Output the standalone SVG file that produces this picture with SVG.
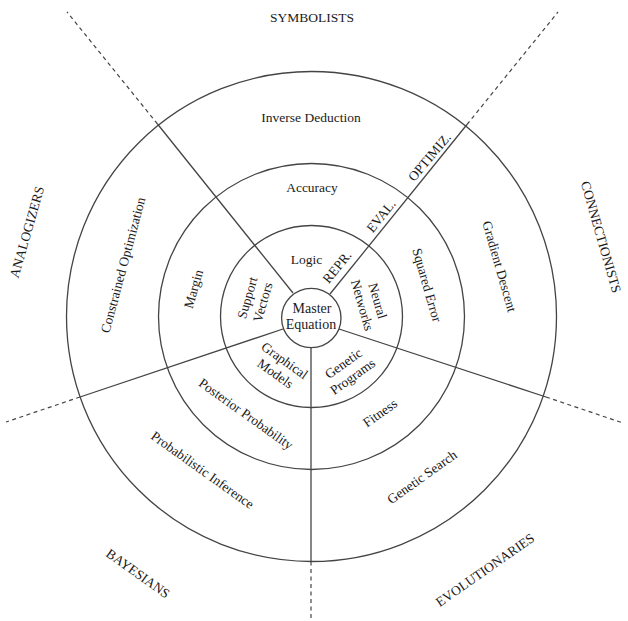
<svg xmlns="http://www.w3.org/2000/svg" width="628" height="621" viewBox="0 0 628 621">
<style>
.ring{fill:none;stroke:#444;stroke-width:1.3}
.solid{stroke:#444;stroke-width:1.3;fill:none}
.dash{stroke:#444;stroke-width:1.2;stroke-dasharray:4 3.5;fill:none}
text{font-family:"Liberation Serif","Times New Roman",serif;font-size:13.5px;fill:#1a1a1a;text-anchor:middle}
.big{font-size:14px}
</style>
<rect width="628" height="621" fill="#fff"/>
<g id="rings">
<circle class="ring" cx="311.5" cy="316.5" r="245"/>
<circle class="ring" cx="311.5" cy="316.5" r="153"/>
<circle class="ring" cx="311.5" cy="316.5" r="91"/>
</g>
<g id="connectors">
<line class="solid" x1="330" y1="294" x2="467" y2="124.5"/>
<line class="dash" x1="467" y1="124.5" x2="558" y2="12"/>
<line class="solid" x1="293" y1="293" x2="157.5" y2="124"/>
<line class="dash" x1="157.5" y1="124" x2="67" y2="12"/>
<line class="solid" x1="283" y1="329" x2="80" y2="397"/>
<line class="dash" x1="80" y1="397" x2="6" y2="422"/>
<line class="solid" x1="339" y1="329" x2="546" y2="397"/>
<line class="dash" x1="546" y1="397" x2="623" y2="423"/>
<line class="solid" x1="311" y1="347.5" x2="311" y2="561.5"/>
<line class="dash" x1="311" y1="561.5" x2="311" y2="619"/>
</g>
<g id="master">
<circle class="ring" cx="311.3" cy="318" r="29.7"/>
<text class="big" x="312" y="313">Master</text>
<text class="big" x="311" y="328.5">Equation</text>
</g>
<g id="symbolists">
<text x="312" y="22">SYMBOLISTS</text>
<text x="311" y="122">Inverse Deduction</text>
<text x="312" y="192">Accuracy</text>
<text x="306.5" y="264">Logic</text>
</g>
<g id="connectionists">
<text transform="translate(601,237) rotate(74)" y="4.5">CONNECTIONISTS</text>
<text transform="translate(499.5,266.5) rotate(74)" y="4.5">Gradient Descent</text>
<text transform="translate(427,285) rotate(74)" y="4.5">Squared Error</text>
<g transform="translate(370,303) rotate(74)">
<text y="-3.5">Neural</text>
<text y="12.5">Networks</text>
</g>
</g>
<g id="evolutionaries">
<text transform="translate(485,570) rotate(-35)" y="4.5">EVOLUTIONARIES</text>
<text transform="translate(422,477) rotate(-35.5)" y="4.5">Genetic Search</text>
<text transform="translate(380,413) rotate(-35.5)" y="4.5">Fitness</text>
<g transform="translate(348,370) rotate(-35.5)">
<text y="-3.5">Genetic</text>
<text y="12.5">Programs</text>
</g>
</g>
<g id="bayesians">
<text transform="translate(138,573.5) rotate(35.5)" y="4.5">BAYESIANS</text>
<text transform="translate(202.5,470) rotate(35.5)" y="4.5">Probabilistic Inference</text>
<text transform="translate(246,414) rotate(35.5)" y="4.5">Posterior Probability</text>
<g transform="translate(280,367) rotate(35.5)">
<text y="-3.5">Graphical</text>
<text y="12.5">Models</text>
</g>
</g>
<g id="analogizers">
<text transform="translate(27,232) rotate(-74)" y="4.5">ANALOGIZERS</text>
<text transform="translate(123,265) rotate(-75)" y="4.5">Constrained Optimization</text>
<text transform="translate(193.5,289) rotate(-74)" y="4.5">Margin</text>
<g transform="translate(255,300) rotate(-74)">
<text y="-3.5">Support</text>
<text y="12.5">Vectors</text>
</g>
</g>
<g id="axis-labels">
<text transform="translate(337,267) rotate(-51)" y="4.5">REPR.</text>
<text transform="translate(381,216) rotate(-51)" y="4.5">EVAL.</text>
<text transform="translate(429.5,157) rotate(-50)" y="4.5">OPTIMIZ.</text>
</g>
</svg>
